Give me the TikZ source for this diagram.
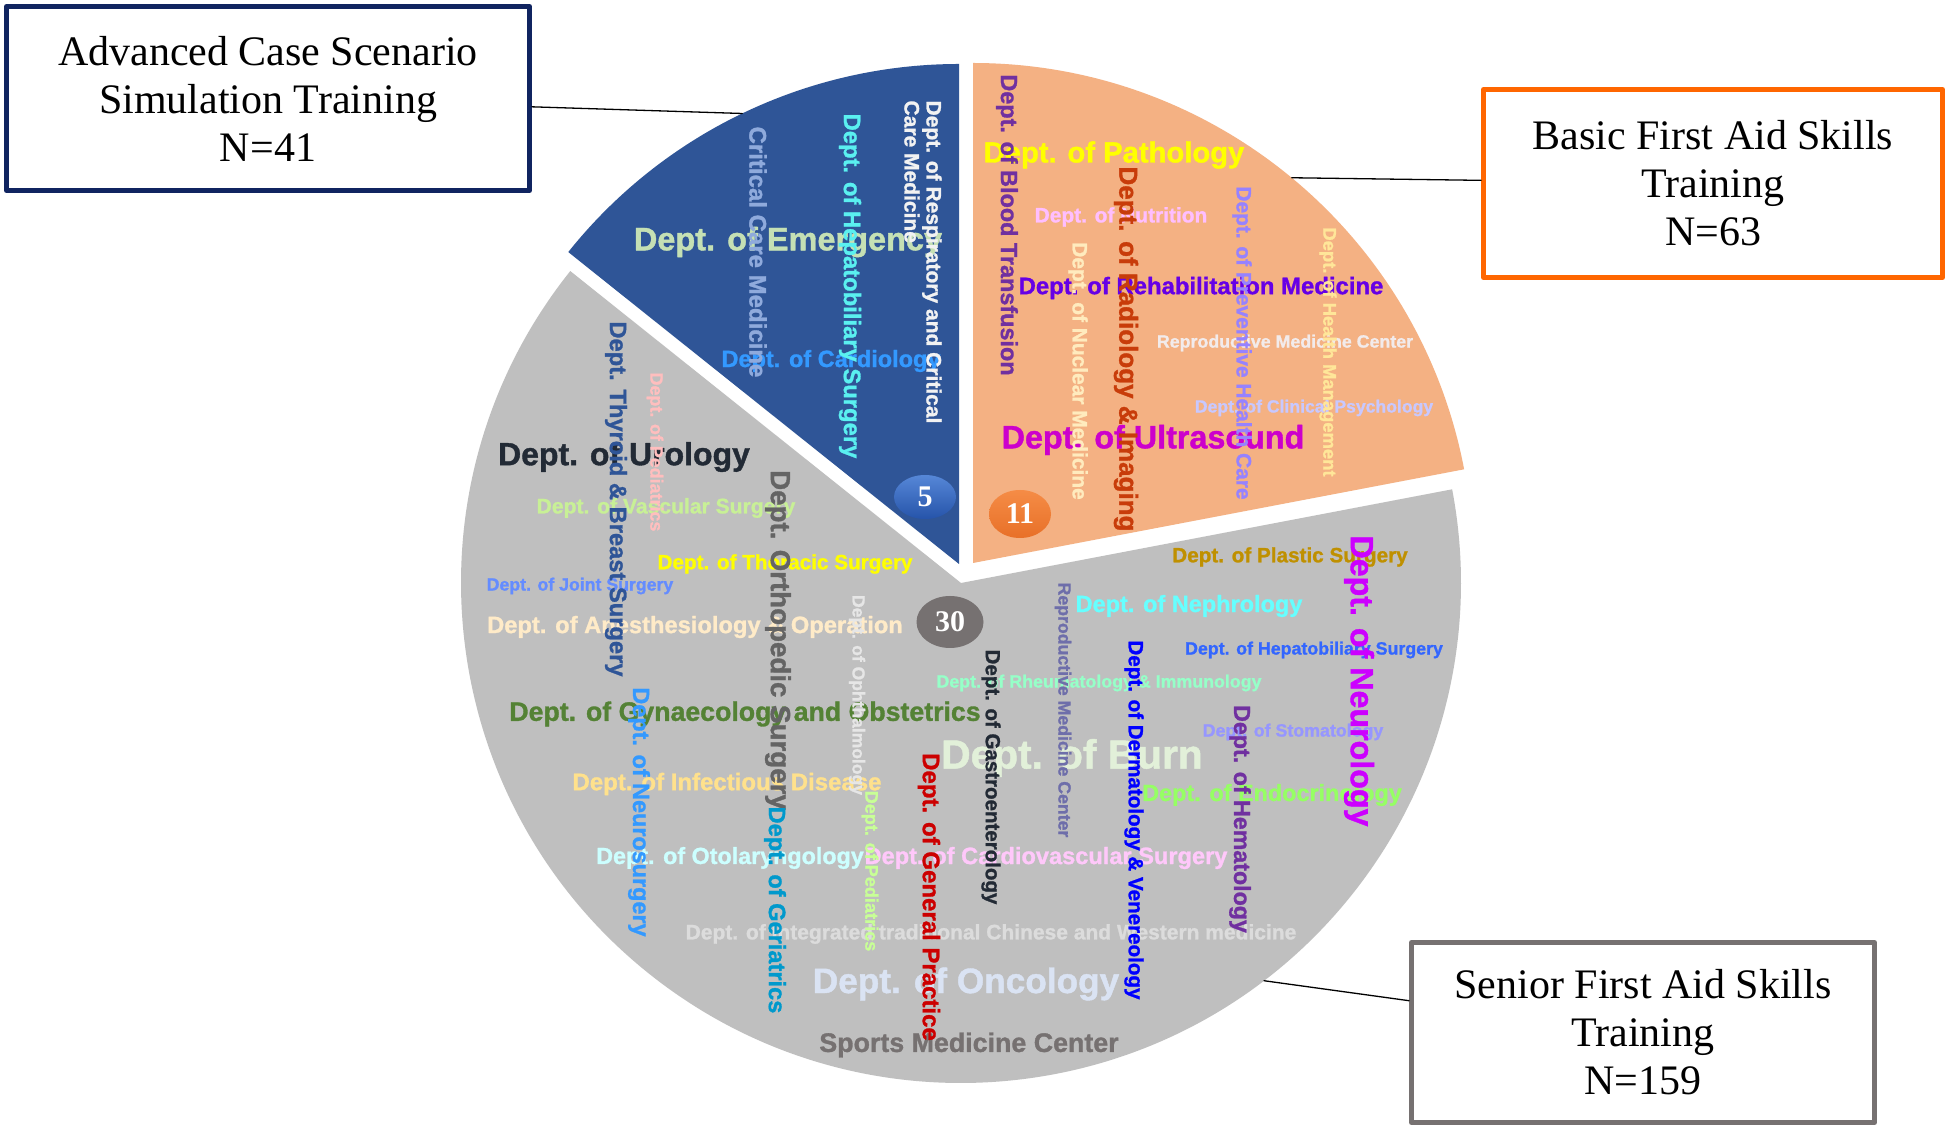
\documentclass[tikz,border=0pt]{standalone}
\usepackage{fontspec}
\setmainfont{Liberation Serif}
\setsansfont{Liberation Sans}[BoldFeatures={FakeBold=1.2}]
\usepackage{tikz}
\usetikzlibrary{calc,shapes.geometric}

% pie colours
\definecolor{pieblue}{RGB}{47,85,151}
\definecolor{pieorange}{RGB}{244,177,131}
\definecolor{piegray}{RGB}{191,191,191}
\definecolor{advnavy}{RGB}{16,36,96}
\definecolor{basicor}{RGB}{255,102,0}
\definecolor{seniorgr}{RGB}{118,113,113}
% word colours
\definecolor{emerg}{RGB}{197,224,180}
\definecolor{respw}{RGB}{242,242,242}
\definecolor{critc}{RGB}{143,170,220}
\definecolor{hepcy}{RGB}{90,240,240}
\definecolor{cardb}{RGB}{51,153,255}
\definecolor{bloodp}{RGB}{112,48,160}
\definecolor{pathy}{RGB}{255,255,0}
\definecolor{nutrp}{RGB}{255,190,255}
\definecolor{radio}{RGB}{200,60,10}
\definecolor{nucl}{RGB}{255,235,190}
\definecolor{rehab}{RGB}{102,0,230}
\definecolor{prevh}{RGB}{150,130,255}
\definecolor{reprw}{RGB}{242,235,235}
\definecolor{healm}{RGB}{255,230,153}
\definecolor{clinp}{RGB}{200,200,255}
\definecolor{ultra}{RGB}{204,0,204}
\definecolor{urol}{RGB}{34,42,53}
\definecolor{thyr}{RGB}{47,85,151}
\definecolor{pedp}{RGB}{255,190,190}
\definecolor{vasc}{RGB}{200,240,150}
\definecolor{joint}{RGB}{100,140,255}
\definecolor{anes}{RGB}{255,235,200}
\definecolor{ortho}{RGB}{100,100,100}
\definecolor{ophth}{RGB}{230,230,230}
\definecolor{gyn}{RGB}{84,130,53}
\definecolor{plast}{RGB}{191,144,0}
\definecolor{neurol}{RGB}{204,0,255}
\definecolor{neph}{RGB}{102,255,255}
\definecolor{hepb}{RGB}{51,102,255}
\definecolor{repro}{RGB}{110,110,170}
\definecolor{rheum}{RGB}{150,255,200}
\definecolor{derm}{RGB}{0,0,255}
\definecolor{stom}{RGB}{150,150,255}
\definecolor{burn}{RGB}{226,240,217}
\definecolor{endo}{RGB}{150,255,100}
\definecolor{genp}{RGB}{204,0,0}
\definecolor{cardv}{RGB}{255,200,250}
\definecolor{otol}{RGB}{204,255,255}
\definecolor{infec}{RGB}{255,225,140}
\definecolor{geri}{RGB}{0,153,204}
\definecolor{pedg}{RGB}{200,255,150}
\definecolor{integ}{RGB}{220,220,220}
\definecolor{onco}{RGB}{218,227,243}

\begin{document}
\begin{tikzpicture}[x=1pt, y=1pt, line cap=round, line join=round,
    wc/.style={inner sep=0pt, font=\sffamily\bfseries\fontsize{#1}{#1}\selectfont},
    vwc/.style={wc=#1, rotate=-90},
    num/.style={ellipse, inner sep=0pt, text=white, font=\bfseries\fontsize{30}{30}\selectfont},
    grp/.style={draw=#1, line width=5pt, fill=white, align=center, inner sep=0pt,
                font=\fontsize{42}{48}\selectfont},
    lead/.style={line width=1.3pt, black}]
                \path[use as bounding box, fill=white] (0,0) rectangle (1948,1130);

                % Pie sectors (exploded)
                \coordinate (gc) at (961,547);
                \coordinate (bc) at (959,566);
                \coordinate (oc) at (973,567);
                \fill[piegray] (gc) -- ++(141.4:500) arc[start angle=141.4, end angle=370.8, radius=500] -- cycle;
                \fill[pieblue] (bc) -- ++(90:500) arc[start angle=90, end angle=141.4, radius=500] -- cycle;
                \fill[pieorange] (oc) -- ++(10.8:500) arc[start angle=10.8, end angle=90, radius=500] -- cycle;

                % Word cloud, horizontal names
                \foreach \px/\py/\fs/\col/\txt [count=\i] in {
                    788/888/32.5/emerg/Dept. of Emergency,
                    831/769/23.5/cardb/Dept. of Cardiology,
                    1114/975/29.2/pathy/Dept. of Pathology,
                    1121/913/20.9/nutrp/Dept. of Nutrition,
                    1201/842/23.9/rehab/Dept. of Rehabilitation Medicine,
                    1285/787/17.8/reprw/Reproductive Medicine Center,
                    1314/722/17.6/clinp/Dept. of Clinical Psychology,
                    1153/690/32.3/ultra/Dept. of Ultrasound,
                    624/673/32/urol/Dept. of Urology,
                    666/622/21.1/vasc/Dept. of Vascular Surgery,
                    785/566/20.7/pathy/Dept. of Thoracic Surgery,
                    580/544/17.7/joint/Dept. of Joint Surgery,
                    695/503/23.7/anes/Dept. of Anesthesiology \& Operation,
                    745/416/26.7/gyn/Dept. of Gynaecology and Obstetrics,
                    1290/573/20.7/plast/Dept. of Plastic Surgery,
                    1189/524/23.5/neph/Dept. of Nephrology,
                    1314/480/17.8/hepb/Dept. of Hepatobiliary Surgery,
                    1099/447/17.8/rheum/Dept. of Rheumatology \& Immunology,
                    1293/398/17.8/stom/Dept. of Stomatology,
                    1072/372/40.7/burn/Dept. of Burn,
                    1272/335/23.4/endo/Dept. of Endocrinology,
                    1046/272/23.6/cardv/Dept. of Cardiovascular Surgery,
                    730/272/23.3/otol/Dept. of Otolaryngology,
                    727/346/24/infec/Dept. of Infectious Disease,
                    991/196/21/integ/Dept. of Integrated traditional Chinese and Western medicine,
                    966/146/35.2/onco/Dept. of Oncology,
                    969/85/26.8/seniorgr/Sports Medicine Center}{
                        \node[wc=\fs, text=\col] (hw\i) at (\px,\py) {\txt};
                    }

                % Word cloud, vertical names (read top to bottom)
                \foreach \px/\py/\fs/\col/\txt [count=\i] in {
                    758/878/24/critc/Critical Care Medicine,
                    850/844/23.8/hepcy/Dept. of Hepatobiliary Surgery,
                    1007/905/23.4/bloodp/Dept. of Blood Transfusion,
                    1126/781/26/radio/Dept. of Radiology \& Imaging,
                    1078/759/20.9/nucl/Dept. of Nuclear Medicine,
                    1242/787/20.9/prevh/Dept. of Preventive Health Care,
                    1328/778/18.4/healm/Dept. of Health Management,
                    616/631/23.7/thyr/Dept. Thyroid \& Breast Surgery,
                    655/678/17.9/pedp/Dept. of Pediatrics,
                    778/490/27.7/ortho/Dept. Orthopedic Surgery,
                    857/435/17.5/ophth/Dept. of Ophthalmology,
                    639/318/23.4/cardb/Dept. of Neurosurgery,
                    1359/449/32.2/neurol/Dept. of Neurology,
                    1063/420/17.7/repro/Reproductive Medicine Center,
                    991/353/20.5/urol/Dept. of Gastroenterology,
                    1134/310/20.6/derm/Dept. of Dermatology \& Venereology,
                    1240/311/23.2/bloodp/Dept. of Hematology,
                    929/233/24/genp/Dept. of General Practice,
                    775/220/23.6/geri/Dept. of Geriatrics,
                    870/259/18.1/pedg/Dept. of Pediatrics}{
                        \node[vwc=\fs, text=\col] (vw\i) at (\px,\py) {\txt};
                    }
                \node[vwc=21, text=respw, align=left, font=\sffamily\bfseries\fontsize{21}{22}\selectfont]
                    (resp) at (923,868) {Dept. of Respiratory and Critical\\Care Medicine};

                % Counts per sector
                \node[num, minimum width=62pt, minimum height=44pt, top color={rgb,255:red,86;green,135;blue,215},
                      bottom color={rgb,255:red,38;green,84;blue,170}] (n5) at (925,633) {5};
                \node[num, minimum width=62pt, minimum height=48pt, top color={rgb,255:red,245;green,140;blue,70},
                      bottom color={rgb,255:red,232;green,112;blue,40}] (n11) at (1020,616) {11};
                \node[num, minimum width=67pt, minimum height=52pt, fill=seniorgr] (n30) at (950,508) {30};

                % Group boxes
                \node[grp=advnavy, minimum width=523pt, minimum height=184pt] (adv) at (268,1031.5)
                    {Advanced Case Scenario\\Simulation Training\\N=41};
                \node[grp=basicor, minimum width=459pt, minimum height=188pt] (basic) at (1713,946.5)
                    {Basic First Aid Skills\\Training\\N=63};
                \node[grp=seniorgr, minimum width=463pt, minimum height=180pt] (senior) at (1643,97.5)
                    {Senior First Aid Skills\\Training\\N=159};

                % Leader lines
                \coordinate (advtip) at ($(bc)+(115.7:500)$);
                \coordinate (bastip) at ($(oc)+(50.4:500)$);
                \coordinate (sentip) at ($(gc)+(-52.7:500)$);
                \draw[lead] (adv) -- (advtip);
                \draw[lead] (bastip) -- (basic);
                \draw[lead] (sentip) -- (senior);

            \end{tikzpicture}
\end{document}
